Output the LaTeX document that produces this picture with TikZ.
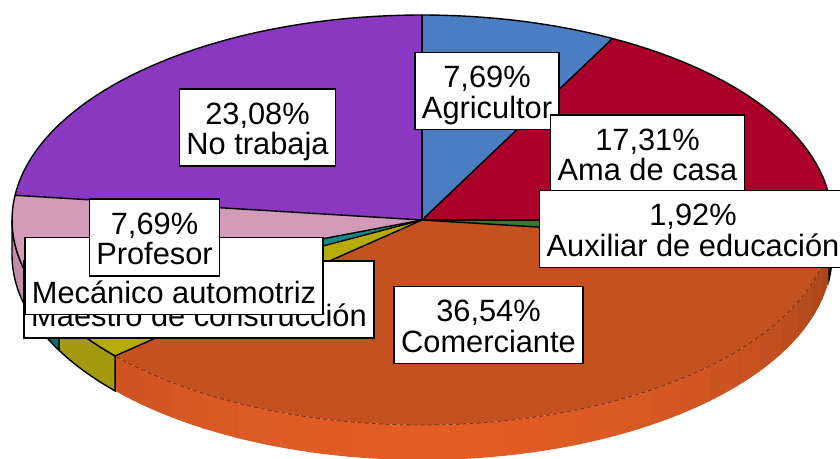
\documentclass[tikz,border=0pt]{standalone}
\usepackage{fontspec}
\setmainfont{Liberation Sans}
\usepackage{tikz}
\definecolor{cagri}{HTML}{4A7DC2}
\definecolor{cama}{HTML}{AA0029}
\definecolor{caux}{HTML}{2E7D32}
\definecolor{ccom}{HTML}{C45220}
\definecolor{cmae}{HTML}{B7AC05}
\definecolor{cmec}{HTML}{13898A}
\definecolor{cpro}{HTML}{D39BBA}
\definecolor{cno}{HTML}{8A38C2}
\definecolor{cauxsd}{HTML}{1F5E22}
\definecolor{cmaesd}{HTML}{A29A0E}
\definecolor{cmecsd}{HTML}{0D6E70}
\definecolor{cprosd}{HTML}{C48CAB}
\definecolor{ccomdk}{HTML}{A8451B}
\definecolor{ccomlt}{HTML}{E35D25}
\newcommand{\lbl}[2]{\rule{0pt}{15.4pt}#1\\#2\rule[-3.3pt]{0pt}{3.3pt}}

\begin{document}
\begin{tikzpicture}[x=0.5pt,y=-0.5pt,
   declare function={rimx(\t)=422+410*sin(\t); rimy(\t)=220-205*cos(\t);},
   tag/.style={draw=black,line width=0.75pt,fill=white,align=center,
     inner xsep=3.5pt,inner ysep=2.3pt,font=\fontsize{15.4}{15.2}\selectfont}]
   \useasboundingbox (0,0) rectangle (840,459);
   \coordinate (c) at (422,220);
   \foreach \i in {0,...,23} {
    \pgfmathsetmacro{\ta}{96.92+\i*5.481}
    \pgfmathsetmacro{\tb}{min(\ta+5.9,228.46)}
    \pgfmathsetmacro{\pc}{max(0,100*cos(1.1*(\ta+2.74-180)))}
    \fill[ccomlt!\pc!ccomdk] plot[domain=\ta:\tb,samples=4] ({rimx(\x)},{rimy(\x)})
      -- plot[domain=\tb:\ta,samples=4] ({rimx(\x)},{rimy(\x)+35}) -- cycle;
   }
   \foreach \a/\b/\col in {90/96.92/cauxsd,228.46/242.31/cmaesd,242.31/249.23/cmecsd,249.23/270/cprosd}
    \filldraw[fill=\col,draw=black,line width=0.7pt]
      plot[domain=\a:\b,samples=12] ({rimx(\x)},{rimy(\x)})
      -- plot[domain=\b:\a,samples=12] ({rimx(\x)},{rimy(\x)+35}) -- cycle;
   \foreach \a/\b/\col in {0/27.69/cagri,27.69/90/cama,90/96.92/caux,96.92/228.46/ccom,
     228.46/242.31/cmae,242.31/249.23/cmec,249.23/276.92/cpro,276.92/360/cno}
    \fill[\col] (c) -- plot[domain=\a:\b,samples=40] ({rimx(\x)},{rimy(\x)}) -- cycle;
   \foreach \a in {0,27.69,90,96.92,228.46,242.31,249.23,276.92}
    \draw[line width=0.7pt] (c) -- ({rimx(\a)},{rimy(\a)});
   \draw[line width=0.7pt] plot[domain=228.46:456.92,samples=120] ({rimx(\x)},{rimy(\x)});
   \draw[ccomdk!70!black,line width=0.4pt,dash pattern=on 2pt off 1.5pt]
     plot[domain=96.92:228.46,samples=80] ({rimx(\x)},{rimy(\x)});
   \node[tag] (notrabaja) at (257.5,127.5) {\lbl{23,08\%}{No trabaja}};
   \node[tag] (agricultor) at (487,91) {\lbl{7,69\%}{Agricultor}};
   \node[tag] (amacasa) at (647.5,153.5) {\lbl{17,31\%}{Ama de casa}};
   \node[tag] (auxiliar) at (693,229) {\lbl{1,92\%}{Auxiliar de educación}};
   \node[tag] (comerciante) at (488.5,325) {\lbl{36,54\%}{Comerciante}};
   \node[tag] (maestro) at (199,299.5) {\lbl{}{Maestro de construcción}};
   \node[tag] (mecanico) at (174,276) {\lbl{}{Mecánico automotriz}};
   \node[tag] (profesor) at (154.5,237.5) {\lbl{7,69\%}{Profesor}};
  \end{tikzpicture}
\end{document}
